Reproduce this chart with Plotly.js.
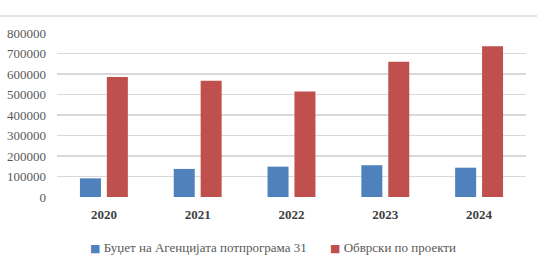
<!DOCTYPE html>
<html><head><meta charset="utf-8">
<script src="https://cdn.plot.ly/plotly-3.0.1.min.js"></script>
<style>html,body{margin:0;padding:0;background:#fff;}#chart{width:537px;height:264px;}</style>
</head><body><div id="chart"></div>
<script>
const years = ['2020', '2021', '2022', '2023', '2024'];
const seriesNames = ['Буџет на Агенцијата потпрограма 31', 'Обврски по проекти'];
const seriesColors = ['#4F81BD', '#C0504D'];
const budget = [91000, 137000, 148000, 155000, 143000];
const obligations = [585000, 567000, 515000, 660000, 735000];
const yTicks = [0, 100000, 200000, 300000, 400000, 500000, 600000, 700000, 800000];

const data = [
  {type: 'bar', x: years, y: budget, name: seriesNames[0], marker: {color: seriesColors[0]}},
  {type: 'bar', x: years, y: obligations, name: seriesNames[1], marker: {color: seriesColors[1]}}
];
const legendX = [0.066, 0.578];
const layout = {
  width: 537, height: 264,
  margin: {l: 57, r: 11, t: 33, b: 67},
  paper_bgcolor: '#fff', plot_bgcolor: '#fff',
  barmode: 'group', bargap: 0.426, bargroupgap: 0.22,
  font: {family: '"Liberation Serif", "DejaVu Serif", serif', size: 13, color: '#595959'},
  xaxis: {type: 'category', showgrid: false, zeroline: false, showline: false, ticks: '',
          automargin: false, ticklabelstandoff: 8,
          tickfont: {family: '"Liberation Serif", serif', size: 13, color: '#404040', weight: 'bold'}},
  yaxis: {range: [0, 800000], tickvals: yTicks, ticktext: yTicks.map(String), automargin: false,
          showgrid: true, gridcolor: '#d9d9d9', gridwidth: 1.5, zeroline: false, showline: false,
          ticks: '', ticklabelstandoff: 10,
          tickfont: {family: '"Liberation Serif", serif', size: 13, color: '#595959'}},
  showlegend: false,
  annotations: seriesNames.map((n, i) => ({
    xref: 'paper', yref: 'paper', x: legendX[i], y: -0.305, xanchor: 'left', yanchor: 'middle',
    showarrow: false,
    text: '<span style="color:' + seriesColors[i] + ';font-size:11px;font-family:DejaVu Sans">■</span> ' + n,
    font: {family: '"Liberation Serif", serif', size: 13, color: '#595959'}
  })),
  shapes: [{type: 'line', xref: 'paper', yref: 'paper', x0: -0.13, x1: 1.03, y0: 1.104, y1: 1.104,
            line: {color: '#d9d9d9', width: 1.5}}]
};
Plotly.newPlot('chart', data, layout, {displayModeBar: false, staticPlot: true});
</script></body></html>
